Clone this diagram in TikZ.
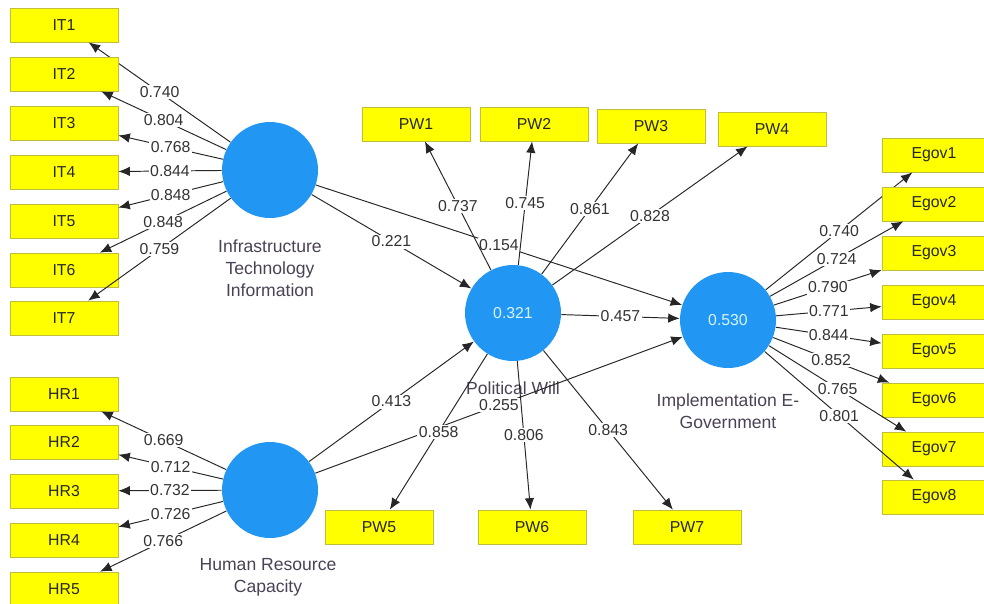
\documentclass[tikz,border=0pt]{standalone}
\usepackage{fontspec}
\setmainfont{Liberation Sans}
\usetikzlibrary{arrows.meta}

\definecolor{lvblue}{RGB}{33,150,243}
\definecolor{mvyellow}{RGB}{255,255,0}
\definecolor{mvedge}{RGB}{190,190,60}
\definecolor{captxt}{RGB}{75,65,85}

\begin{document}
\begin{tikzpicture}[x=0.02cm,y=-0.02cm,
	ind/.style={draw=mvedge,fill=mvyellow,minimum width=2.16cm,minimum height=0.68cm,font=\fontsize{9}{10}\selectfont,text=black!85},
	lv/.style={circle,fill=lvblue,minimum size=1.92cm,inner sep=0pt,font=\fontsize{9}{10}\selectfont,text=cyan!15},
	load/.style={-{Latex[length=2.3mm,width=1.9mm]},draw=black!85,line width=0.55pt},
	w/.style={fill=white,inner sep=0.8pt,font=\fontsize{9}{10}\selectfont,text=black!80},
	lvcap/.style={align=center,font=\fontsize{10}{12.5}\selectfont,text=captxt}]
	\useasboundingbox (0,0) rectangle (984,603);
	% latent variables
	\node[lv] (IT) at (270,170) {};
	\node[lv] (HR) at (270,490) {};
	\node[lv] (PW) at (513,313) {0.321};
	\node[lv] (EG) at (728,320) {0.530};
	\node[lvcap] (ITcap) at (270,268) {Infrastructure\\Technology\\Information};
	\node[lvcap] (HRcap) at (268,577) {Human Resource\\Capacity};
	\node[lvcap] (PWcap) at (513,388) {Political Will};
	\node[lvcap] (EGcap) at (728,411) {Implementation E-\\Government};
	% inner model
	\draw[load] (IT) -- node[w]{0.221} (PW);
	\draw[load] (IT) -- node[w]{0.154} (EG);
	\draw[load] (HR) -- node[w]{0.413} (PW);
	\draw[load] (HR) -- node[w]{0.255} (EG);
	\draw[load] (PW) -- node[w]{0.457} (EG);
	% indicators
	\foreach \n/\y/\v in {1/25/0.740,2/74/0.804,3/123/0.768,4/172/0.844,5/221/0.848,6/270/0.848,7/318/0.759}{
		\node[ind] (IT\n) at (64,\y) {IT\n};
		\draw[load] (IT) -- node[w]{\v} (IT\n);
	}
	\foreach \n/\y/\v in {1/394/0.669,2/442/0.712,3/491/0.732,4/540/0.726,5/589/0.766}{
		\node[ind] (HR\n) at (64,\y) {HR\n};
		\draw[load] (HR) -- node[w]{\v} (HR\n);
	}
	\foreach \n/\x/\y/\v in {1/416/124/0.737,2/534/124/0.745,3/651/126/0.861,4/772/129/0.828,5/379/527/0.858,6/532/527/0.806,7/687/527/0.843}{
		\node[ind] (PW\n) at (\x,\y) {PW\n};
		\draw[load] (PW) -- node[w]{\v} (PW\n);
	}
	\foreach \n/\y/\v in {1/155/0.740,2/204/0.724,3/253/0.790,4/302/0.771,5/351/0.844,6/400/0.852,7/449/0.765,8/497/0.801}{
		\node[ind,minimum width=2.08cm] (EG\n) at (934,\y) {Egov\n};
		\draw[load] (EG) -- node[w]{\v} (EG\n);
	}
\end{tikzpicture}
\end{document}
